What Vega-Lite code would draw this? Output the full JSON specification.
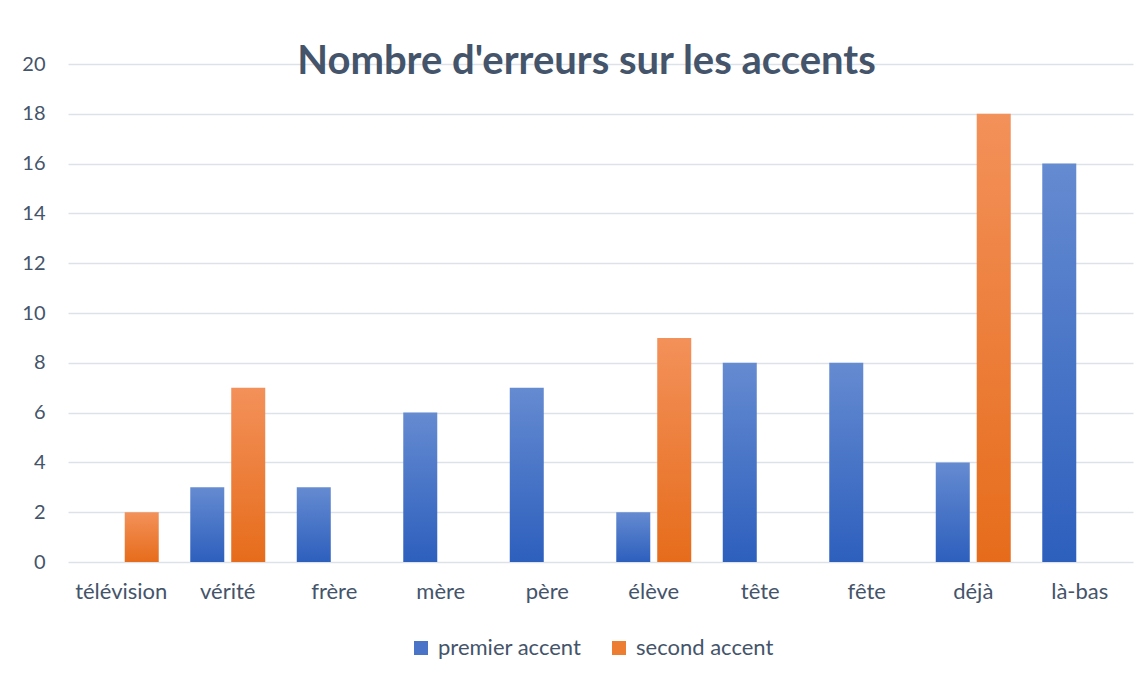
{
  "$schema": "https://vega.github.io/schema/vega-lite/v6.json",
  "autosize": "none",
  "width": 1065,
  "height": 498,
  "padding": {"left": 68, "top": 64, "right": 14, "bottom": 115},
  "background": "white",
  "title": {
    "text": "Nombre d'erreurs sur les accents",
    "anchor": "middle",
    "frame": "group",
    "font": "Lato",
    "fontSize": 40,
    "fontWeight": "bold",
    "color": "#44546A",
    "baseline": "alphabetic",
    "offset": -60,
    "dx": -14
  },
  "data": {
    "values": [
      {"mot": "télévision", "accent": "premier accent", "erreurs": 0},
      {"mot": "télévision", "accent": "second accent", "erreurs": 2},
      {"mot": "vérité", "accent": "premier accent", "erreurs": 3},
      {"mot": "vérité", "accent": "second accent", "erreurs": 7},
      {"mot": "frère", "accent": "premier accent", "erreurs": 3},
      {"mot": "frère", "accent": "second accent", "erreurs": 0},
      {"mot": "mère", "accent": "premier accent", "erreurs": 6},
      {"mot": "mère", "accent": "second accent", "erreurs": 0},
      {"mot": "père", "accent": "premier accent", "erreurs": 7},
      {"mot": "père", "accent": "second accent", "erreurs": 0},
      {"mot": "élève", "accent": "premier accent", "erreurs": 2},
      {"mot": "élève", "accent": "second accent", "erreurs": 9},
      {"mot": "tête", "accent": "premier accent", "erreurs": 8},
      {"mot": "tête", "accent": "second accent", "erreurs": 0},
      {"mot": "fête", "accent": "premier accent", "erreurs": 8},
      {"mot": "fête", "accent": "second accent", "erreurs": 0},
      {"mot": "déjà", "accent": "premier accent", "erreurs": 4},
      {"mot": "déjà", "accent": "second accent", "erreurs": 18},
      {"mot": "là-bas", "accent": "premier accent", "erreurs": 16},
      {"mot": "là-bas", "accent": "second accent", "erreurs": 0}
    ]
  },
  "encoding": {
    "x": {
      "field": "mot",
      "type": "nominal",
      "sort": null,
      "scale": {"paddingInner": 0.296, "paddingOuter": 0.148},
      "axis": {
        "title": null,
        "labelAngle": 0,
        "domain": false,
        "ticks": false,
        "tickSize": 0,
        "labelPadding": 19,
        "labelFont": "Lato",
        "labelFontSize": 22,
        "labelColor": "#44546A"
      }
    },
    "xOffset": {
      "field": "accent",
      "type": "nominal",
      "scale": {"domain": ["premier accent", "second accent"], "paddingInner": 0.17, "paddingOuter": 0}
    },
    "y": {
      "field": "erreurs",
      "type": "quantitative",
      "scale": {"domain": [0, 20], "nice": false},
      "axis": {
        "title": null,
        "values": [0, 2, 4, 6, 8, 10, 12, 14, 16, 18, 20],
        "domain": false,
        "ticks": false,
        "tickSize": 0,
        "labelPadding": 23,
        "labelFont": "Lato",
        "labelFontSize": 20,
        "labelColor": "#44546A",
        "grid": true,
        "gridColor": "#DDE1E8",
        "gridWidth": 1.6
      }
    }
  },
  "layer": [
    {
      "transform": [{"filter": "datum.accent === 'premier accent'"}],
      "mark": {
        "type": "bar",
        "color": {"gradient": "linear", "x1": 0, "y1": 0, "x2": 0, "y2": 1, "stops": [{"offset": 0, "color": "#658BD1"}, {"offset": 1, "color": "#2D5FBD"}]}
      }
    },
    {
      "transform": [{"filter": "datum.accent === 'second accent'"}],
      "mark": {
        "type": "bar",
        "color": {"gradient": "linear", "x1": 0, "y1": 0, "x2": 0, "y2": 1, "stops": [{"offset": 0, "color": "#F3915A"}, {"offset": 1, "color": "#E66C1B"}]}
      }
    },
    {
      "transform": [{"filter": "datum.erreurs < 0"}],
      "mark": {"type": "bar"},
      "encoding": {
        "color": {
          "field": "accent",
          "type": "nominal",
          "scale": {
            "domain": ["premier accent", "second accent"],
            "range": ["#4A74C8", "#ED7D31"]
          },
          "legend": {
            "title": null,
            "orient": "none",
            "direction": "horizontal",
            "legendX": 342,
            "legendY": 573,
            "symbolType": "square",
            "symbolSize": 196,
            "symbolStrokeWidth": 0,
            "labelFont": "Lato",
            "labelFontSize": 22,
            "labelColor": "#44546A",
            "labelOffset": 6,
            "columnPadding": 26
          }
        }
      }
    }
  ],
  "config": {
    "view": {"stroke": null}
  }
}
